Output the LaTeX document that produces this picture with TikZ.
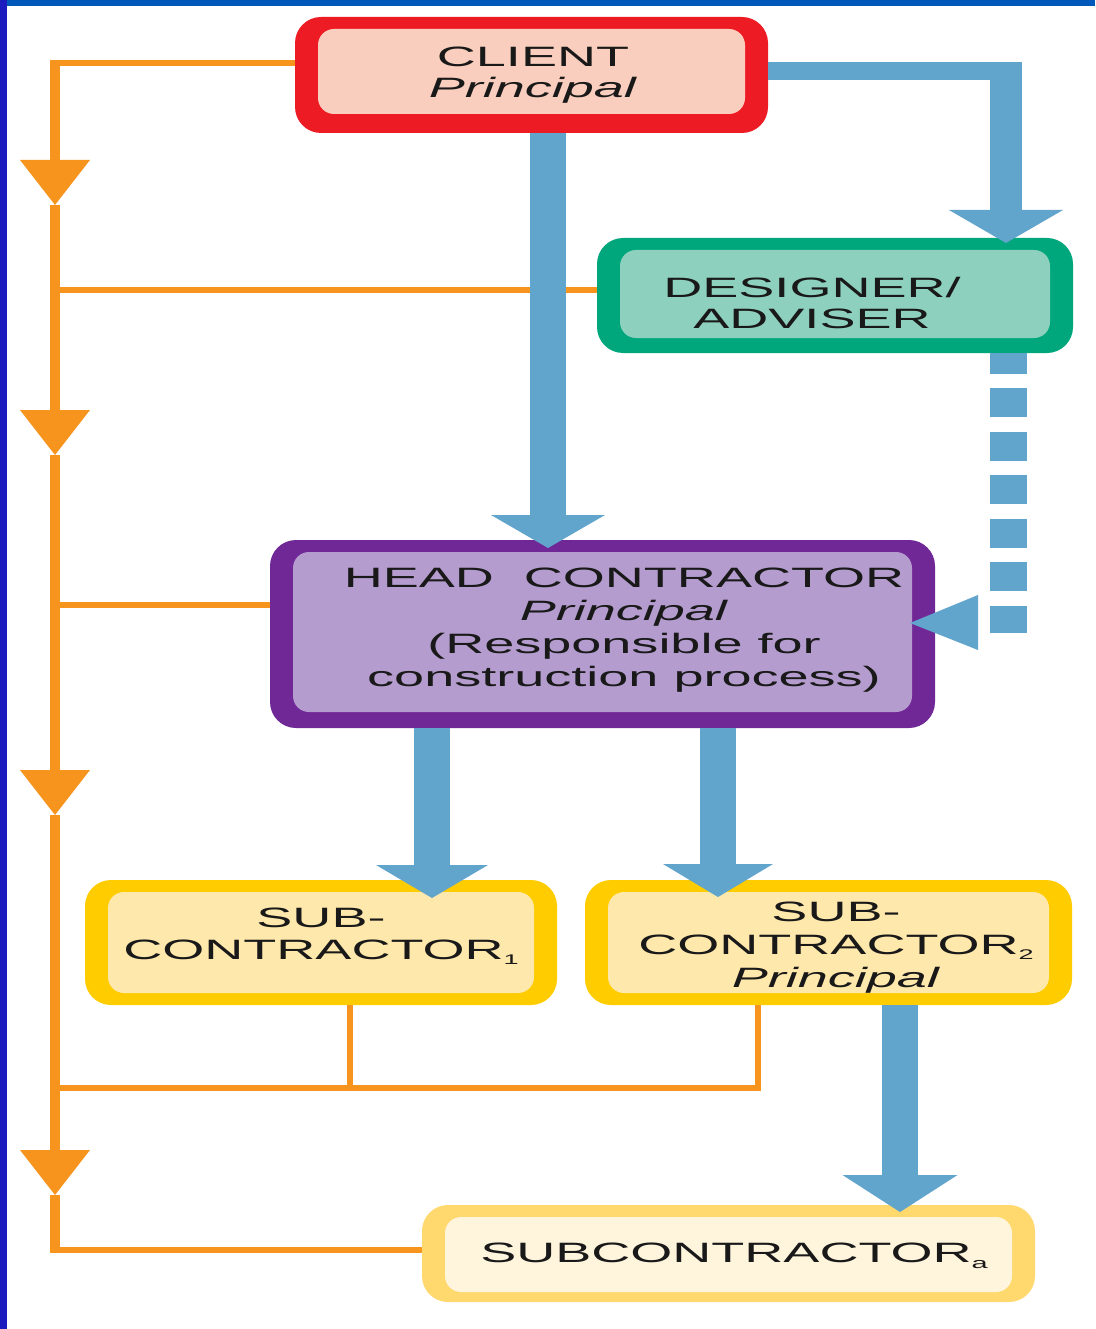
\documentclass[tikz,border=0pt]{standalone}
\usepackage{fontspec}
\setmainfont{Liberation Sans}[FakeStretch=1.93]
\usetikzlibrary{arrows.meta,calc}
\definecolor{arrowblue}{RGB}{97,164,204}
\definecolor{orangeline}{RGB}{247,148,30}
\definecolor{clientred}{RGB}{237,28,36}
\definecolor{clientfill}{RGB}{250,206,190}
\definecolor{desgreen}{RGB}{0,166,124}
\definecolor{desfill}{RGB}{142,208,190}
\definecolor{headpurple}{RGB}{112,40,150}
\definecolor{headfill}{RGB}{180,156,206}
\definecolor{subyellow}{RGB}{255,204,0}
\definecolor{subfill}{RGB}{255,232,172}
\definecolor{subayellow}{RGB}{255,216,110}
\definecolor{subafill}{RGB}{255,244,220}
\definecolor{bartop}{RGB}{0,88,186}
\definecolor{barleft}{RGB}{28,28,190}
\definecolor{textdark}{RGB}{25,25,25}
\begin{document}
\begin{tikzpicture}[x=1pt,y=-1pt,
  framebox/.style n args={3}{fill=#1, rounded corners=26pt, inner sep=0pt, outer sep=0pt,
    path picture={\fill[#2, rounded corners=16pt]
      ([xshift=23pt,yshift=-12pt]path picture bounding box.north west) rectangle
      ([xshift=-23pt,yshift=#3]path picture bounding box.south east);}},
  boxtext/.style={align=center, inner sep=0pt, text=textdark, font=\fontsize{28}{32}\selectfont},
  bluearrow/.style={draw=arrowblue, line width=36pt, -{Triangle[width=114pt,length=33pt,line width=0pt]}},
  trunkline/.style={draw=orangeline, line width=10pt, -{Triangle[width=70pt,length=45pt,line width=0pt]}},
  branchline/.style={draw=orangeline, line width=6pt}
]
\useasboundingbox (0,0) rectangle (1095,1329);
\fill[white] (0,0) rectangle (1095,1329);
\fill[bartop] (0,0) rectangle (1095,6);
\fill[barleft] (0,0) rectangle (7,1329);

% boxes
\node[framebox={clientred}{clientfill}{19pt}, minimum width=473pt, minimum height=116pt] (client) at (531.5,75) {};
\node[framebox={desgreen}{desfill}{15pt}, minimum width=476pt, minimum height=115pt] (designer) at (835,295.5) {};
\node[framebox={headpurple}{headfill}{16pt}, minimum width=665pt, minimum height=188pt] (head) at (602.5,634) {};
\node[framebox={subyellow}{subfill}{12pt}, minimum width=472pt, minimum height=125pt] (sub1) at (321,942.5) {};
\node[framebox={subyellow}{subfill}{12pt}, minimum width=487pt, minimum height=125pt] (sub2) at (828.5,942.5) {};
\node[framebox={subayellow}{subafill}{10pt}, minimum width=613pt, minimum height=97pt] (suba) at (728.5,1253.5) {};

% texts
\node[boxtext, font=\fontsize{28}{31}\selectfont] (clientT) at (533,75.5) {CLIENT\\\textit{Principal}};
\node[boxtext, font=\fontsize{28}{31}\selectfont] (designerT) at (812,302.5) {DESIGNER/\\ADVISER};
\node[boxtext, font=\fontsize{28}{33}\selectfont] (headT) at (624,630) {HEAD~~CONTRACTOR\\\textit{Principal}\\(Responsible for\\construction process)};
\node[boxtext] (sub1T) at (321,936) {SUB-\\CONTRACTOR\raisebox{-5pt}{\fontsize{14}{14}\selectfont 1}};
\node[boxtext, font=\fontsize{28}{33}\selectfont] (sub2T) at (836,948) {SUB-\\CONTRACTOR\raisebox{-5pt}{\fontsize{14}{14}\selectfont 2}\\\textit{Principal}};
\node[boxtext] (subaT) at (734,1255.5) {SUBCONTRACTOR\raisebox{-6pt}{\fontsize{15}{15}\selectfont a}};

% orange feedback lines
\coordinate (t0) at (55,60);
\coordinate (t1) at (55,205);
\coordinate (t2) at (55,455);
\coordinate (t3) at (55,815);
\coordinate (t4) at (55,1195);
\coordinate (t5) at (55,1253);
\draw[branchline] (50,63) -- (client.west |- 0,63);
\draw[branchline] (55,290) -- (designer.west |- 0,290);
\draw[branchline] (55,605) -- (head.west |- 0,605);
\draw[branchline] (350,0 |- sub1.south) -- (350,1088);
\draw[branchline] (758,0 |- sub2.south) -- (758,1088) -- (55,1088);
\draw[branchline] (55,1250) -- (suba.west |- 0,1250);
\draw[trunkline] (t0) -- (t1);
\draw[trunkline] (t1) -- (t2);
\draw[trunkline] (t2) -- (t3);
\draw[trunkline] (t3) -- (t4);
\draw[draw=orangeline, line width=10pt] (t4) -- (t5);

% blue arrows
\draw[bluearrow, shorten >=-8pt] (548,0 |- client.south) -- (548,0 |- head.north);
\coordinate (cdcorner) at (1006,62);
\draw[draw=arrowblue, line width=18pt] (client.east |- 0,71) -- (1022,71);
\draw[bluearrow, line width=32pt, shorten >=-5pt] (cdcorner) -- (cdcorner |- designer.north);
\coordinate (dashend) at (1008.5,633);
\draw[draw=arrowblue, line width=37pt, dash pattern=on 29pt off 14.5pt, dash phase=8.4pt] (dashend |- designer.south) -- (dashend);
\fill[arrowblue] (978,595) -- (978,650) -- ($(head.east |- 0,623)+(-25,0)$) -- cycle;
\draw[bluearrow, -{Triangle[width=112pt,length=33pt,line width=0pt]}, shorten >=-18pt] (432,0 |- head.south) -- (432,0 |- sub1.north);
\draw[bluearrow, -{Triangle[width=110pt,length=33pt,line width=0pt]}, shorten >=-17pt] (718,0 |- head.south) -- (718,0 |- sub2.north);
\draw[bluearrow, -{Triangle[width=115pt,length=37pt,line width=0pt]}, shorten >=-7pt] (900,0 |- sub2.south) -- (900,0 |- suba.north);
\end{tikzpicture}
\end{document}
